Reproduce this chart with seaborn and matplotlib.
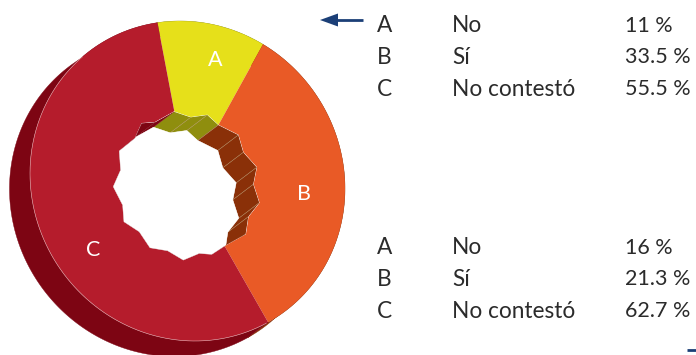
import numpy as np
import seaborn as sns
import matplotlib
matplotlib.use("Agg")
import matplotlib.pyplot as plt
from matplotlib.patches import Polygon, PathPatch
from matplotlib.path import Path
from matplotlib.transforms import Affine2D

letters = ["A", "B", "C"]
answers = ["No", "Sí", "No contestó"]
values_top = [11, 33.5, 55.5]
values_bottom = [16, 21.3, 62.7]
face_colors = ["#e6e01a", "#e95a26", "#b51c2c"]
wall_colors = ["#8f8e0e", "#8a3008", "#7d0513"]
navy = "#1b3f77"
text_color = "#2b2b2b"

W, H = 696, 355
# jagged outline of the hole, in picture pixels (y down)
hole_px = [(174, 111.7), (190.7, 117.3), (207.3, 115), (218.3, 125), (238.3, 135),
           (243.3, 152.3), (256.7, 167.3), (253.3, 184.3), (259.3, 202.7), (248.3, 216.7),
           (245.7, 234), (226, 245), (211.7, 254.3), (199.3, 253.3), (183.3, 260),
           (167.7, 250.7), (150, 247.7), (139.3, 231.7), (124, 221.7), (122.7, 205),
           (113.3, 186.7), (120.7, 170), (119.3, 151), (135, 138.3), (141.7, 123.3),
           (155, 122.3)]

sns.set_theme(style="white", rc={"axes.grid": False})
plt.rcParams["font.family"] = ["Lato", "DejaVu Sans"]

fig = plt.figure(figsize=(W / 100, H / 100), dpi=100)
ax = fig.add_axes([0, 0, 1, 1])

# the disc is a slightly tilted ellipse
cx, cy = 187.5, H - 181
cov = np.array([[157.5 ** 2, -1200.0], [-1200.0, 160.0 ** 2]])
vals, vecs = np.linalg.eigh(cov)
shape = vecs @ np.diag(np.sqrt(vals)) @ vecs.T
depth = np.array([-20.5, -15.5])  # y up
start = 99.6
palette = sns.color_palette(face_colors)
walls = sns.color_palette(wall_colors)

edges = start - np.cumsum([0] + values_top) * 3.6  # clockwise angles


def sector(angle):
    a = (start - angle) % 360
    return int(np.searchsorted(np.cumsum(values_top) * 3.6, a))


def rim(th):
    pts = shape @ np.vstack([np.cos(th), np.sin(th)])
    return np.c_[pts[0] + cx, pts[1] + cy]


# outer extruded wall
for i in range(3):
    front = rim(np.radians(np.linspace(edges[i], edges[i + 1], 200)))
    ax.add_patch(Polygon(np.r_[front, (front + depth)[::-1]], closed=True,
                         fc=walls[i], ec=walls[i], lw=0.3, zorder=1))

# front face
wedges, _ = ax.pie(values_top, colors=palette, startangle=start, counterclock=False,
                   radius=1, center=(0, 0), frame=True,
                   wedgeprops={"linewidth": 0, "zorder": 2})
m = np.eye(3)
m[:2, :2] = shape
m[:2, 2] = [cx, cy]
for w in wedges:
    w.set_transform(Affine2D(m) + ax.transData)

# pale seam along the lower left rim
th = np.radians(np.linspace(edges[2], edges[3], 300))
th = th[(np.degrees(th) % 360 > 130) & (np.degrees(th) % 360 < 299)]
seam_pts = rim(th)
ax.plot(seam_pts[:, 0], seam_pts[:, 1], color="#e3a9ae", lw=0.4, zorder=3)

hole = np.array([(x, H - y) for x, y in hole_px])
hole_path = Path(np.r_[hole, hole[:1]], closed=True)
clip = PathPatch(hole_path, transform=ax.transData, fc="none", ec="none")
ax.add_patch(clip)

# hole: inner wall, then the see-through part
ax.add_patch(PathPatch(hole_path, fc="white", ec="white", lw=0.4, zorder=4))
n = len(hole)
for j in range(n):
    p, q = hole[j], hole[(j + 1) % n]
    mid = (p + q) / 2
    idx = sector(np.degrees(np.arctan2(mid[1] - cy, mid[0] - cx)))
    quad = Polygon([p, q, q + depth, p + depth], closed=True, fc=walls[idx], ec=walls[idx],
                   lw=0.2, zorder=5)
    ax.add_patch(quad)
    quad.set_clip_path(clip)
back = Polygon(hole + depth, closed=True, fc="white", ec="white", lw=0.3, zorder=6)
ax.add_patch(back)
back.set_clip_path(clip)
for j in range(n):
    p = hole[j]
    if hole_px[j][0] > 185 and hole_px[j][1] < 240:
        seam, = ax.plot([p[0], p[0] + depth[0]], [p[1], p[1] + depth[1]],
                        color="#b89a70", lw=0.35, zorder=5.5)
        seam.set_clip_path(clip)

# labels on the ring
for s, (x, y) in zip(letters, [(215, 60), (304, 194), (93, 250)]):
    ax.text(x, H - y, s, color="white", fontsize=15.5, ha="center", va="center", zorder=7)

# tables
for ys, vals_ in zip([(26, 57, 89), (248, 279, 311)], [values_top, values_bottom]):
    for y, a, b, v in zip(ys, letters, answers, vals_):
        ax.text(377, H - y, a, color=text_color, fontsize=16.3, va="center", ha="left")
        ax.text(452, H - y, b, color=text_color, fontsize=16.3, va="center", ha="left")
        ax.text(625, H - y, f"{v:g} %", color=text_color, fontsize=15.5, va="center", ha="left")

# arrows
ax.plot([336, 363], [H - 20, H - 20], color=navy, lw=2, solid_capstyle="butt")
ax.add_patch(Polygon([(320, H - 20), (338, H - 13.5), (338, H - 26.5)], closed=True, fc=navy, ec="none"))
ax.plot([687, 696], [H - 350, H - 350], color=navy, lw=2, solid_capstyle="butt")

ax.set_xlim(0, W)
ax.set_ylim(0, H)
ax.set_aspect("equal")
ax.set_axis_off()
fig.savefig("out.png", dpi=100, facecolor="white")
